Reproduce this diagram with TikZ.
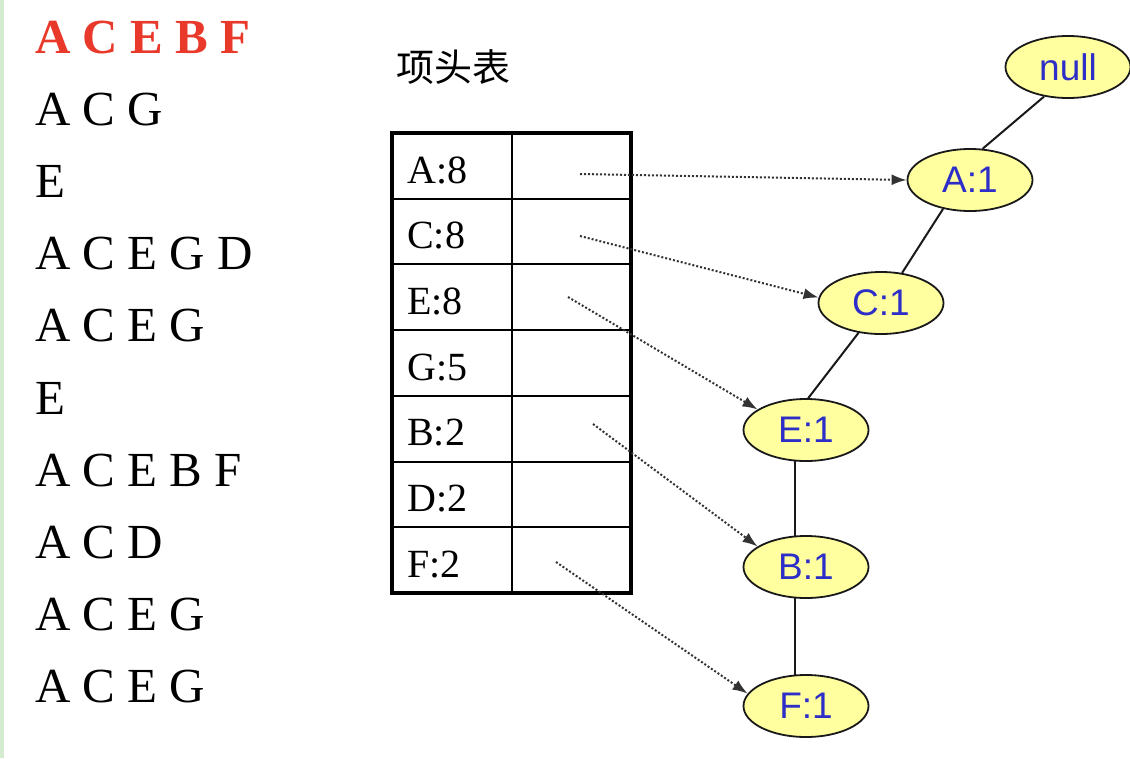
\documentclass[tikz,border=0pt]{standalone}
\usepackage{fontspec}
\setmainfont{Liberation Serif}
\newfontfamily\cjkfont{Noto Sans CJK SC}
\newfontfamily\arialfont{Liberation Sans}
\usetikzlibrary{shapes.geometric,arrows.meta}
\definecolor{itemred}{RGB}{232,57,43}
\definecolor{nodeyellow}{RGB}{255,255,160}
\definecolor{nodeblue}{RGB}{45,45,200}
\definecolor{stripgreen}{RGB}{213,235,208}
\begin{document}
\begin{tikzpicture}[x=1pt,y=-1pt,
  itemtext/.style={anchor=base west,inner sep=0pt,font=\fontsize{49}{60}\selectfont},
  keytext/.style={anchor=base west,inner sep=0pt,font=\fontsize{40}{48}\selectfont},
  treenode/.style={ellipse,draw=black!90,line width=1.8pt,fill=nodeyellow,
    minimum width=125pt,minimum height=62pt,inner sep=0pt,
    font=\arialfont\fontsize{37}{42}\selectfont,text=nodeblue},
  treeedge/.style={draw=black!90,line width=2pt},
  link/.style={draw=black!80,line width=2pt,dotted,-{Latex[length=15pt,width=11pt]}}]
\def\rowh{65.7}
\useasboundingbox (0,0) rectangle (1130,758);
\fill[stripgreen] (0,0) rectangle (4,758);

% transactions
\node[itemtext,font=\bfseries\fontsize{49}{60}\selectfont,text=itemred] (t0) at (35,53) {A C E B F};
\foreach \items [count=\i] in {A C G, E, A C E G D, A C E G, E, A C E B F, A C D, A C E G, A C E G}
  \node[itemtext] (t\i) at (35,53+\i*72.2) {\items};

% header table
\node[font=\cjkfont\fontsize{38}{42}\selectfont] (title) at (453,67) {项头表};
\draw[line width=3.5pt] (392,133) rectangle (631,593);
\draw[line width=2pt] (512,133) -- (512,593);
\foreach \k in {1,...,6}
  \draw[line width=2pt] (392,133+\k*\rowh) -- (631,133+\k*\rowh);
\foreach \name/\cnt [count=\k from 0] in {A/8,C/8,E/8,G/5,B/2,D/2,F/2}
  \node[keytext] (key\name) at (407,183+\k*\rowh) {\name:\cnt};

\coordinate (ptrA) at (580,174);
\coordinate (ptrC) at (580,236);
\coordinate (ptrE) at (568,297);
\coordinate (ptrB) at (593,424);
\coordinate (ptrF) at (556,562);

% FP-tree
\node[treenode] (null) at (1068,67) {null};
\node[treenode] (A1) at (970,180) {A:1};
\node[treenode] (C1) at (881,303) {C:1};
\node[treenode] (E1) at (806,430) {E:1};
\node[treenode] (B1) at (806,567) {B:1};
\node[treenode] (F1) at (806,706) {F:1};

\draw[treeedge] (null.231) -- (A1.68);
\draw[treeedge] (A1.227) -- (C1.55);
\draw[treeedge] (C1.233) -- (E1.86);
\draw[treeedge] (E1.250) -- (B1.110);
\draw[treeedge] (B1.250) -- (F1.110);

\draw[link] (ptrA) -- (A1.west);
\draw[link] (ptrC) -- (C1.175);
\draw[link] (ptrE) -- (E1.157);
\draw[link] (ptrB) -- (B1.157);
\draw[link] (ptrF) -- (F1.168);
\end{tikzpicture}
\end{document}
